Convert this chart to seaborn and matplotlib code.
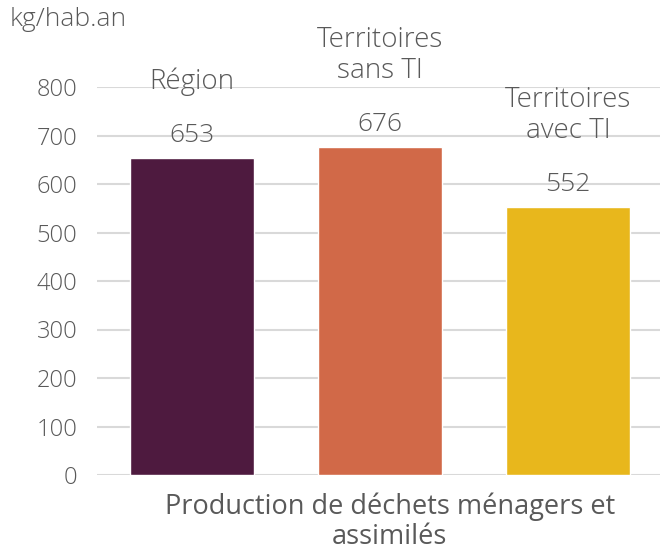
import pandas as pd
import seaborn as sns
import matplotlib.pyplot as plt

sns.set_theme(style="white")
plt.rcParams['font.family'] = ['Open Sans', 'DejaVu Sans']
plt.rcParams['font.weight'] = 'light'

categories = ["Région", "Territoires\nsans TI", "Territoires\navec TI"]
values = [653, 676, 552]
colors = ["#4E1A3F", "#D16948", "#E8B71C"]

df = pd.DataFrame({"cat": categories, "val": values})
text_color = "#595959"

fig = plt.figure(figsize=(6.61, 5.55), dpi=100)
ax = fig.add_axes([97 / 661, 80 / 555, 563 / 661, 388 / 555])

sns.barplot(
    ax=ax,
    data=df,
    x="cat",
    y="val",
    hue="cat",
    palette=colors,
    legend=False,
    width=0.66,
    saturation=1,
    zorder=3
)

ax.set_ylim(0, 800)
ax.set_xlim(-0.505, 2.49)
ax.set_yticks(range(0, 801, 100))
ax.yaxis.grid(True, color="#d9d9d9", linewidth=1.5, zorder=0)
ax.set_axisbelow(True)
for s in ax.spines.values():
    s.set_visible(False)
ax.tick_params(axis="y", labelsize=17, colors=text_color, pad=14, length=0)
ax.set_xticks([])
ax.set_ylabel("")
ax.set_xlabel("Production de déchets ménagers et\nassimilés", fontsize=19.5,
              color=text_color, linespacing=1.1)
ax.xaxis.set_label_coords(0.52, -0.045, transform=ax.transAxes)
ax.xaxis.label.set_verticalalignment("top")

for i, (c, v) in enumerate(zip(categories, values)):
    ax.annotate(str(v), (i, v), xytext=(0, 11.5), textcoords="offset points",
                ha="center", va="baseline", fontsize=19, color=text_color)
    ax.annotate(c, (i, v), xytext=(0, 50), textcoords="offset points",
                ha="center", va="baseline", fontsize=20, color=text_color,
                linespacing=1.15)

fig.text(10 / 661, 1 - 26 / 555, "kg/hab.an", fontsize=19, color=text_color,
         ha="left", va="baseline")

fig.savefig("out.png", dpi=100)
